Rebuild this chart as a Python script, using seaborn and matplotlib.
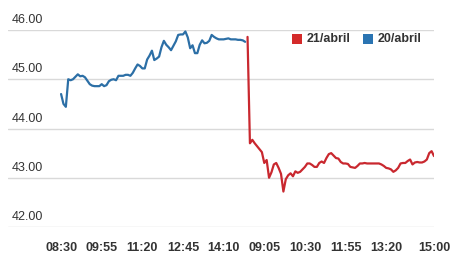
import numpy as np
import pandas as pd
import seaborn as sns
import matplotlib
matplotlib.use("Agg")
import matplotlib.pyplot as plt
from matplotlib.patches import Rectangle

# ---- data ----
day1_label = "20/abril"
day2_label = "21/abril"

day1_values = [
    44.70, 44.50, 44.44, 45.00, 44.98, 45.00, 45.05, 45.10, 45.06, 45.07,
    45.04, 44.97, 44.90, 44.87, 44.86, 44.86, 44.86, 44.90, 44.86, 44.88,
    44.96, 44.99, 45.00, 44.98, 45.07, 45.07, 45.07, 45.09, 45.09, 45.07,
    45.13, 45.22, 45.30, 45.27, 45.22, 45.22, 45.40, 45.48, 45.58, 45.39,
    45.42, 45.46, 45.65, 45.78, 45.70, 45.65, 45.59, 45.68, 45.77, 45.90,
    45.91, 45.91, 45.97, 45.85, 45.63, 45.69, 45.53, 45.53, 45.70, 45.79,
    45.73, 45.74, 45.78, 45.90, 45.86, 45.83, 45.81, 45.81, 45.81, 45.82,
    45.83, 45.81, 45.81, 45.81, 45.80, 45.80, 45.79, 45.76,
]
day2_values = [
    45.86, 43.70, 43.77, 43.70, 43.64, 43.58, 43.52, 43.30, 43.36, 43.00,
    43.11, 43.27, 43.30, 43.20, 43.08, 42.72, 42.97, 43.05, 43.09, 43.03,
    43.13, 43.10, 43.12, 43.17, 43.22, 43.29, 43.29, 43.26, 43.22, 43.22,
    43.30, 43.33, 43.30, 43.40, 43.48, 43.50, 43.45, 43.40, 43.39, 43.32,
    43.29, 43.29, 43.28, 43.22, 43.21, 43.20, 43.24, 43.29, 43.29, 43.30,
    43.29, 43.29, 43.29, 43.29, 43.29, 43.29, 43.27, 43.24, 43.20, 43.19,
    43.17, 43.12, 43.15, 43.20, 43.29, 43.30, 43.30, 43.34, 43.37, 43.27,
    43.31, 43.32, 43.31, 43.31, 43.33, 43.37, 43.50, 43.54, 43.44,
]
tick_positions = [0, 17, 34, 51, 68, 85, 102, 119, 136, 156]
tick_labels = ["08:30", "09:55", "11:20", "12:45", "14:10",
               "09:05", "10:30", "11:55", "13:20", "15:00"]
y_ticks = [42, 43, 44, 45, 46]

colors = {day1_label: "#2c6fa6", day2_label: "#c9282f"}
legend_colors = {day1_label: "#2a74b2", day2_label: "#d42a2a"}

n1 = len(day1_values)
df = pd.concat([
    pd.DataFrame({"idx": np.arange(n1), "value": day1_values, "day": day1_label}),
    pd.DataFrame({"idx": np.arange(n1, n1 + len(day2_values)), "value": day2_values, "day": day2_label}),
], ignore_index=True)

# ---- figure ----
sns.set_style("white")
plt.rcParams["font.family"] = ["Liberation Sans", "DejaVu Sans"]

W, H = 469, 260
fig = plt.figure(figsize=(W / 100, H / 100), dpi=100)
left_px, right_px, top_px, bottom_px = 8, 434, 30, 227
ax = fig.add_axes([left_px / W, 1 - bottom_px / H,
                   (right_px - left_px) / W, (bottom_px - top_px) / H])

for yv in y_ticks:
    ax.axhline(yv, color="#d9d9d9", lw=1.0, zorder=0)

sns.lineplot(data=df, x="idx", y="value", hue="day", palette=colors,
             linewidth=1.6, legend=False, ax=ax, zorder=3)

ax.set_xlim(-22.2, 156)
ax.set_ylim(42, 46)
for s in ax.spines.values():
    s.set_visible(False)

ax.set_yticks([])
ytrans = ax.get_yaxis_transform()
for yv in y_ticks:
    ax.text(4 / (right_px - left_px), yv + 0.2, f"{yv:.2f}", transform=ytrans,
            ha="left", va="center", fontsize=9, color="#333333", clip_on=False)

ax.set_xticks(tick_positions)
ax.set_xticklabels(tick_labels, fontsize=9, fontweight="bold", color="#333333")
ax.tick_params(axis="x", length=0, pad=10.5)
ax.set_xlabel("")
ax.set_ylabel("")

# legend (figure pixel coordinates)
def px(x, y):
    return x / W, 1 - y / H

for lab, sq_x, tx in [(day2_label, 292, 307), (day1_label, 363, 378)]:
    x0, y0 = px(sq_x, 44)
    fig.patches.append(Rectangle((x0, y0), 10 / W, 10 / H, transform=fig.transFigure,
                                 facecolor=legend_colors[lab], edgecolor="none"))
    tx0, ty0 = px(tx, 39)
    fig.text(tx0, ty0, lab, ha="left", va="center", fontsize=9,
             fontweight="bold", color="#333333")

fig.savefig("out.png", dpi=100, facecolor="white")
